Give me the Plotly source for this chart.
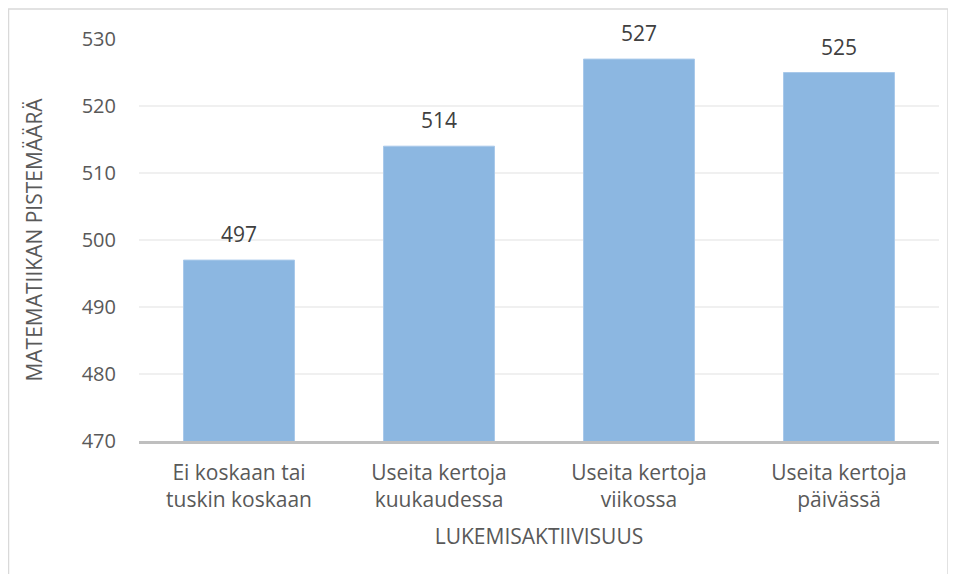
import plotly.graph_objects as go

categories = ["Ei koskaan tai<br>tuskin koskaan", "Useita kertoja<br>kuukaudessa",
              "Useita kertoja<br>viikossa", "Useita kertoja<br>päivässä"]
values = [497, 514, 527, 525]
y_ticks = [470, 480, 490, 500, 510, 520, 530]

FONT = "'Open Sans', Lato, sans-serif"
TXT = "#595959"

fig = go.Figure(go.Bar(
    x=categories, y=values,
    marker=dict(color="#8cb7e1", line=dict(color="#a9c9ea", width=1)),
    hoverinfo="x+y",
))

# data labels above the bars
for c, v in zip(categories, values):
    fig.add_annotation(x=c, y=v, text=str(v), showarrow=False,
                       yanchor="bottom", yshift=10,
                       font=dict(family=FONT, size=21, color="#404040"))

# page body has an 8px margin: figure origin sits at (8, 8)
W, H = 942, 566
L, T = 131, 31
R = W - 931
B = H - 433
pw, ph = W - L - R, H - T - B

fig.update_layout(
    width=W, height=H,
    margin=dict(l=L, r=R, t=T, b=B),
    paper_bgcolor="white", plot_bgcolor="white",
    bargap=0.445,
    showlegend=False,
    font=dict(family=FONT, color=TXT),
    xaxis=dict(
        showline=True, linecolor="#bfbfbf", linewidth=2.5,
        tickfont=dict(family=FONT, size=21, color=TXT),
        ticks="", ticklabelstandoff=11,
        title=dict(text="LUKEMISAKTIIVISUUS", font=dict(family=FONT, size=21, color=TXT), standoff=18),
    ),
    yaxis=dict(
        range=[470, 530], tickvals=y_ticks,
        showgrid=True, gridcolor="#f0f0f0", gridwidth=1.5,
        zeroline=False, showline=False, ticks="",
        tickfont=dict(family=FONT, size=20, color=TXT),
        ticklabelstandoff=22,
        title=dict(text="MATEMATIIKAN PISTEMÄÄRÄ", font=dict(family=FONT, size=21, color=TXT), standoff=33),
    ),
    shapes=[dict(
        type="rect", xref="paper", yref="paper",
        x0=(0.5 - L) / pw, x1=(940 - L) / pw,
        y0=(H - B - 700) / ph, y1=(H - B - 1) / ph,
        line=dict(color="#d9d9d9", width=1.5), fillcolor="rgba(0,0,0,0)", layer="below",
    )],
)

fig.write_html("out.html")
